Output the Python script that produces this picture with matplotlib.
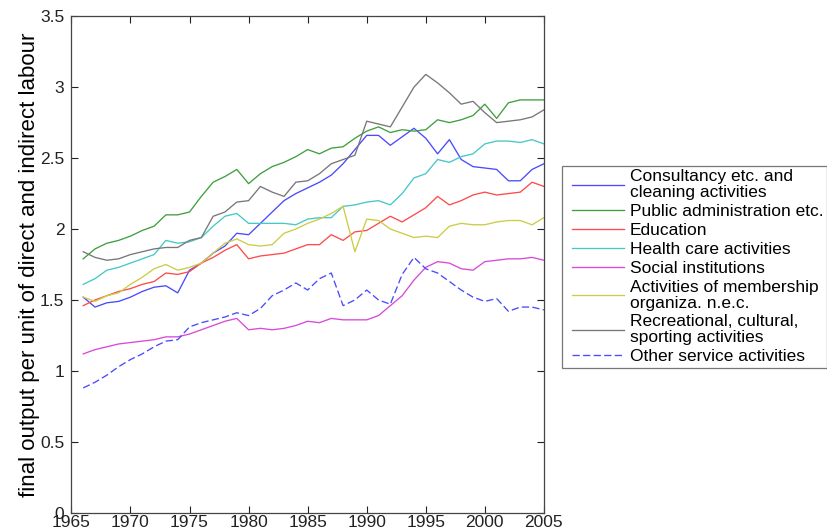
import numpy as np
import matplotlib
matplotlib.use("Agg")
import matplotlib.pyplot as plt
from matplotlib.lines import Line2D
from matplotlib.legend_handler import HandlerLine2D

plt.rcParams['font.family'] = ['Liberation Sans', 'DejaVu Sans']

# -----------------------------
# data
# -----------------------------
years = np.arange(1966, 2006)

consultancy = [1.52, 1.45, 1.48, 1.49, 1.52, 1.56, 1.59, 1.60, 1.55, 1.71,
               1.76, 1.83, 1.88, 1.97, 1.96, 2.04, 2.12, 2.20, 2.25, 2.29,
               2.33, 2.38, 2.46, 2.56, 2.66, 2.66, 2.59, 2.65, 2.71, 2.64,
               2.53, 2.63, 2.49, 2.44, 2.43, 2.42, 2.34, 2.34, 2.42, 2.46]

public_admin = [1.79, 1.86, 1.90, 1.92, 1.95, 1.99, 2.02, 2.10, 2.10, 2.12,
                2.23, 2.33, 2.37, 2.42, 2.32, 2.39, 2.44, 2.47, 2.51, 2.56,
                2.53, 2.57, 2.58, 2.64, 2.69, 2.72, 2.68, 2.70, 2.69, 2.70,
                2.77, 2.75, 2.77, 2.80, 2.88, 2.78, 2.89, 2.91, 2.91, 2.91]

education = [1.46, 1.50, 1.53, 1.56, 1.58, 1.61, 1.63, 1.69, 1.68, 1.70,
             1.76, 1.80, 1.85, 1.89, 1.79, 1.81, 1.82, 1.83, 1.86, 1.89,
             1.89, 1.96, 1.92, 1.98, 1.99, 2.04, 2.09, 2.05, 2.10, 2.15,
             2.23, 2.17, 2.20, 2.24, 2.26, 2.24, 2.25, 2.26, 2.33, 2.30]

health = [1.61, 1.65, 1.71, 1.73, 1.76, 1.79, 1.82, 1.92, 1.90, 1.91,
          1.94, 2.02, 2.09, 2.11, 2.04, 2.04, 2.04, 2.04, 2.03, 2.07,
          2.08, 2.08, 2.16, 2.17, 2.19, 2.20, 2.17, 2.25, 2.36, 2.39,
          2.49, 2.47, 2.51, 2.53, 2.60, 2.62, 2.62, 2.61, 2.63, 2.60]

social = [1.12, 1.15, 1.17, 1.19, 1.20, 1.21, 1.22, 1.24, 1.24, 1.26,
          1.29, 1.32, 1.35, 1.37, 1.29, 1.30, 1.29, 1.30, 1.32, 1.35,
          1.34, 1.37, 1.36, 1.36, 1.36, 1.39, 1.46, 1.53, 1.64, 1.73,
          1.77, 1.76, 1.72, 1.71, 1.77, 1.78, 1.79, 1.79, 1.80, 1.78]

membership = [1.52, 1.49, 1.53, 1.55, 1.61, 1.66, 1.72, 1.75, 1.71, 1.73,
              1.76, 1.83, 1.90, 1.93, 1.89, 1.88, 1.89, 1.97, 2.00, 2.04,
              2.07, 2.11, 2.16, 1.84, 2.07, 2.06, 2.00, 1.97, 1.94, 1.95,
              1.94, 2.02, 2.04, 2.03, 2.03, 2.05, 2.06, 2.06, 2.03, 2.08]

recreational = [1.84, 1.80, 1.78, 1.79, 1.82, 1.84, 1.86, 1.87, 1.87, 1.92,
                1.94, 2.09, 2.12, 2.19, 2.20, 2.30, 2.26, 2.23, 2.33, 2.34,
                2.39, 2.46, 2.49, 2.52, 2.76, 2.74, 2.72, 2.86, 3.00, 3.09,
                3.03, 2.96, 2.88, 2.90, 2.82, 2.75, 2.76, 2.77, 2.79, 2.84]

other = [0.88, 0.92, 0.97, 1.03, 1.08, 1.12, 1.17, 1.21, 1.22, 1.31,
         1.34, 1.36, 1.38, 1.41, 1.39, 1.44, 1.53, 1.57, 1.62, 1.57,
         1.65, 1.69, 1.46, 1.50, 1.57, 1.50, 1.47, 1.68, 1.80, 1.72,
         1.69, 1.63, 1.57, 1.52, 1.49, 1.51, 1.42, 1.45, 1.45, 1.43]

labels = ["Consultancy etc. and\ncleaning activities",
          "Public administration etc.",
          "Education",
          "Health care activities",
          "Social institutions",
          "Activities of membership\norganiza. n.e.c.",
          "Recreational, cultural,\nsporting activities",
          "Other service activities"]

series = [consultancy, public_admin, education, health,
          social, membership, recreational, other]
colors = ["#4a4aff", "#3f9f3f", "#ff4a4a", "#45c8c8",
          "#d84ad8", "#cccc45", "#777777", "#4a4aff"]
styles = ["-", "-", "-", "-", "-", "-", "-", (0, (5.5, 2.5))]

# -----------------------------
# plot
# -----------------------------
fig = plt.figure(figsize=(8.28, 5.31), dpi=100)
ax = fig.add_axes([71.4/828, 1 - 512.8/531, 472.5/828, 496.6/531])

for vals, lab, c, ls in zip(series, labels, colors, styles):
    ax.plot(years, vals, color=c, linestyle=ls, linewidth=0.95, label=lab)

ax.set_xlim(1965, 2005)
ax.set_ylim(0, 3.5)
ax.set_xticks(np.arange(1965, 2006, 5))
ax.set_yticks(np.arange(0, 3.51, 0.5))
ax.set_yticklabels(["0", "0.5", "1", "1.5", "2", "2.5", "3", "3.5"])

ax.tick_params(direction='in', length=5, width=0.8, top=True, right=True,
               labelsize=12.5, colors='#222222')
ax.tick_params(axis='x', pad=1.5)
ax.tick_params(axis='y', pad=5)
for sp in ax.spines.values():
    sp.set_color('#444444')
    sp.set_linewidth(0.9)

ax.set_ylabel("final output per unit of direct and indirect labour",
              fontsize=16)
ax.yaxis.set_label_coords(-0.066, 0.5)

leg = ax.legend(loc='upper left', bbox_to_anchor=(562/828, 1 - 166/531),
                bbox_transform=fig.transFigure, borderaxespad=0,
                fontsize=12.5, frameon=True, fancybox=False, shadow=False,
                handlelength=3.35, handletextpad=0.35, labelspacing=0.22,
                borderpad=0.2,
                handler_map={Line2D: HandlerLine2D(xpad=0.35)})
leg.get_frame().set_edgecolor('#555555')
leg.get_frame().set_linewidth(0.9)
for t in leg.get_texts():
    t.set_linespacing(1.06)

fig.savefig("out.png", dpi=100)
